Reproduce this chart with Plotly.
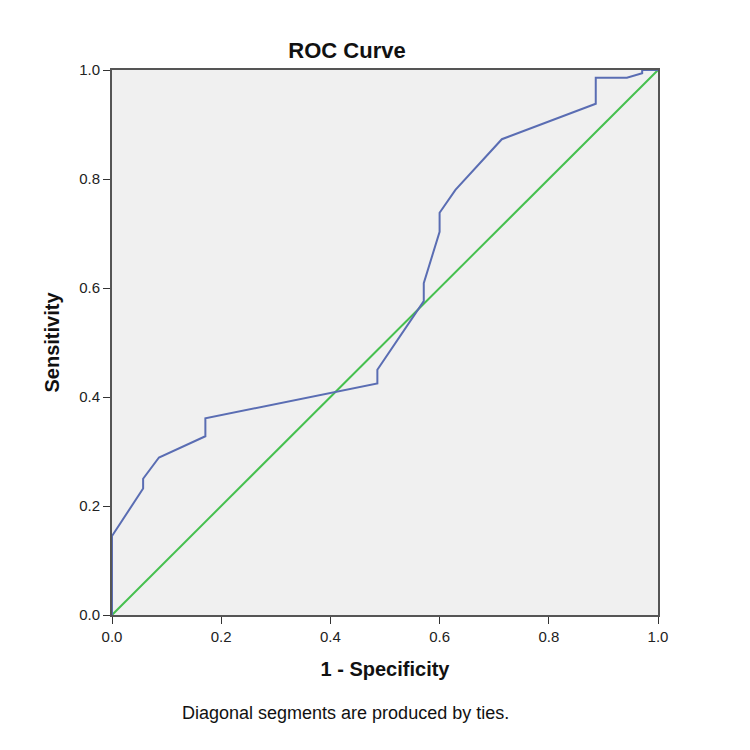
import plotly.graph_objects as go

# ROC curve points (1 - specificity, sensitivity)
fpr = [0.0, 0.0, 0.057, 0.057, 0.086, 0.171, 0.171, 0.408, 0.486, 0.486,
       0.571, 0.571, 0.600, 0.600, 0.629, 0.714, 0.886, 0.886, 0.943, 0.971,
       0.971, 1.0]
tpr = [0.0, 0.145, 0.232, 0.250, 0.289, 0.328, 0.361, 0.410, 0.425, 0.450,
       0.576, 0.609, 0.703, 0.738, 0.780, 0.873, 0.938, 0.986, 0.986, 0.994,
       1.0, 1.0]
ref_x = [0.0, 1.0]
ref_y = [0.0, 1.0]
tick_vals = [0.0, 0.2, 0.4, 0.6, 0.8, 1.0]
tick_text = ["0.0", "0.2", "0.4", "0.6", "0.8", "1.0"]

fig = go.Figure()
fig.add_trace(go.Scatter(x=ref_x, y=ref_y, mode="lines",
                         line=dict(color="#46C04F", width=2), showlegend=False))
fig.add_trace(go.Scatter(x=fpr, y=tpr, mode="lines",
                         line=dict(color="#5A6DB3", width=2), showlegend=False))

axis_style = dict(
    range=[0, 1],
    tickvals=tick_vals,
    ticktext=tick_text,
    ticks="outside",
    ticklen=7,
    tickcolor="#333",
    showgrid=False,
    zeroline=False,
    showline=True,
    linecolor="#555",
    linewidth=2,
    mirror=True,
    automargin=False,
    tickfont=dict(size=15, color="#222"),
)

fig.update_layout(
    width=750,
    height=750,
    paper_bgcolor="white",
    plot_bgcolor="#F0F0F0",
    font=dict(family="Liberation Sans, Arial, sans-serif", color="#111"),
    margin=dict(l=104, r=100, t=62, b=143),
    title=dict(text="<b>ROC Curve</b>", x=0.452, xanchor="center",
               y=0.944, yanchor="middle", font=dict(size=22)),
    xaxis=dict(title=dict(text="<b>1 - Specificity</b>", font=dict(size=20),
                          standoff=18), **axis_style),
    yaxis=dict(title=dict(text="<b>Sensitivity</b>", font=dict(size=20),
                          standoff=14), **axis_style),
    annotations=[dict(text="Diagonal segments are produced by ties.",
                      xref="paper", yref="paper", x=0.427, y=-0.18,
                      xanchor="center", yanchor="middle", showarrow=False,
                      font=dict(size=18, color="#111"))],
)

fig.write_html("out.html")
